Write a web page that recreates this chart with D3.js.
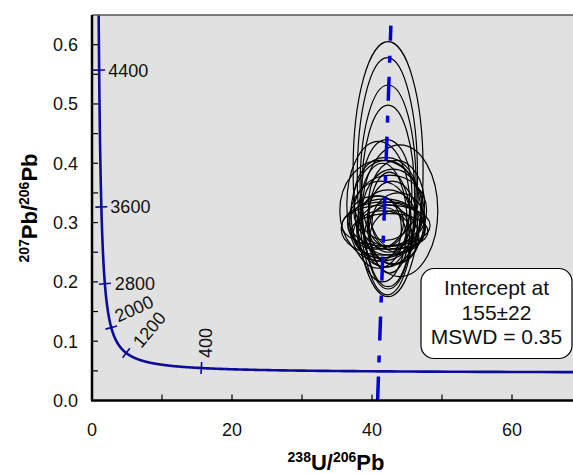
<!DOCTYPE html>
<html>
<head>
<meta charset="utf-8">
<script src="https://cdn.jsdelivr.net/npm/d3@7"></script>
<style>
  body { margin: 0; background: #fff; }
  text { font-family: Arial, "Liberation Sans", sans-serif; }
</style>
</head>
<body>
<div id="chart"></div>
<script>
// decay constants (1/Ma) used for the Tera-Wasserburg concordia
var lambda238 = 1.55125e-4,
    lambda235 = 9.8485e-4,
    u238u235 = 137.88;

// age marks on the concordia (Ma)
var ageTicks = [400, 1200, 2000, 2800, 3600, 4400];

// axis ticks
var xTicks = [0, 10, 20, 30, 40, 50, 60];
var xLabels = [0, 20, 40, 60];
var yTicks = [0, 0.05, 0.1, 0.15, 0.2, 0.25, 0.3, 0.35, 0.4, 0.45, 0.5, 0.55, 0.6];
var yLabels = [0, 0.1, 0.2, 0.3, 0.4, 0.5, 0.6];

// discordia line end points [238U/206Pb, 207Pb/206Pb]
var discordia = [[40.8, 0], [42.7, 0.632]];

// error ellipses [x centre, y centre, x half-axis, y half-axis]
var ellipses = [
  [42.3, 0.390, 5.0, 0.215],
  [42.2, 0.378, 4.3, 0.200],
  [42.3, 0.360, 4.0, 0.172],
  [42.3, 0.345, 3.8, 0.153],
  [40.9, 0.330, 4.5, 0.107],
  [44.0, 0.320, 5.4, 0.111],
  [41.3, 0.320, 5.9, 0.085],
  [42.0, 0.315, 5.0, 0.090],
  [43.0, 0.310, 4.5, 0.080],
  [41.5, 0.300, 3.5, 0.100],
  [42.5, 0.300, 3.0, 0.085],
  [41.0, 0.290, 3.2, 0.055],
  [42.0, 0.295, 6.3, 0.035],
  [42.5, 0.285, 5.5, 0.030],
  [41.8, 0.300, 5.0, 0.040],
  [42.8, 0.290, 4.8, 0.045],
  [41.5, 0.280, 4.2, 0.040],
  [42.3, 0.305, 4.0, 0.050],
  [43.2, 0.275, 3.5, 0.045],
  [41.2, 0.305, 4.4, 0.065],
  [42.6, 0.320, 5.2, 0.060],
  [41.9, 0.275, 3.0, 0.050],
  [42.9, 0.300, 3.6, 0.070],
  [40.5, 0.300, 4.0, 0.045],
  [43.8, 0.300, 3.8, 0.050],
  [42.0, 0.340, 4.6, 0.070],
  [42.4, 0.290, 2.8, 0.040],
  [41.6, 0.290, 6.0, 0.045],
  [42.1, 0.350, 3.6, 0.090],
  [43.5, 0.330, 4.0, 0.075]
];

var resultLines = ["Intercept at", "155\u00b122", "MSWD = 0.35"];

var width = 573, height = 474;
var plotLeft = 92, plotTop = 15, plotBottom = 400.5;

var x = d3.scaleLinear().domain([0, 70]).range([plotLeft, plotLeft + 490]);
var y = d3.scaleLinear().domain([0, 0.65]).range([plotBottom, plotTop]);

var svg = d3.select("#chart").append("svg")
    .attr("width", width)
    .attr("height", height);

svg.append("defs").append("clipPath")
    .attr("id", "plotclip")
  .append("rect")
    .attr("x", plotLeft)
    .attr("y", plotTop)
    .attr("width", width - plotLeft)
    .attr("height", plotBottom - plotTop);

svg.append("rect")
    .attr("x", plotLeft)
    .attr("y", plotTop)
    .attr("width", width - plotLeft)
    .attr("height", plotBottom - plotTop)
    .style("fill", "#e1e1e1");

// concordia point for an age t
function tw(t) {
    var e8 = Math.exp(lambda238 * t) - 1,
        e5 = Math.exp(lambda235 * t) - 1;
    return [1 / e8, e5 / e8 / u238u235];
}

var plot = svg.append("g").attr("clip-path", "url(#plotclip)");

// ellipses
plot.selectAll("ellipse.err")
    .data(ellipses)
    .enter().append("ellipse")
    .attr("class", "err")
    .attr("cx", function (d) { return x(d[0]); })
    .attr("cy", function (d) { return y(d[1]); })
    .attr("rx", function (d) { return x(d[0] + d[2]) - x(d[0]); })
    .attr("ry", function (d) { return y(d[1] - d[3]) - y(d[1]); })
    .style("fill", "none")
    .style("stroke", "#000")
    .style("stroke-width", "1.2px");

// discordia
var line = d3.line()
    .x(function (d) { return x(d[0]); })
    .y(function (d) { return y(d[1]); });

plot.append("path")
    .attr("d", line(discordia))
    .style("fill", "none")
    .style("stroke", "#0000dd")
    .style("stroke-width", "3.5px")
    .style("stroke-dasharray", "24,14,7,15");

// concordia curve
var ages = d3.range(80, 4700, 5);
plot.append("path")
    .attr("d", line(ages.map(tw)))
    .style("fill", "none")
    .style("stroke", "#0c0c96")
    .style("stroke-width", "2.6px");

// age marks
var tickLen = 6;
ageTicks.forEach(function (t) {
    var p = tw(t), p0 = tw(t - 5), p1 = tw(t + 5);
    var dx = x(p1[0]) - x(p0[0]), dy = y(p1[1]) - y(p0[1]);
    var n = Math.sqrt(dx * dx + dy * dy);
    var nx = -dy / n, ny = dx / n;
    var px = x(p[0]), py = y(p[1]);
    plot.append("line")
        .attr("x1", px - nx * tickLen)
        .attr("y1", py - ny * tickLen)
        .attr("x2", px + nx * tickLen)
        .attr("y2", py + ny * tickLen)
        .style("stroke", "#0c0c96")
        .style("stroke-width", "1.6px");
});

// age labels: offset from mark and rotation
var ageLabelPos = {
    400: [11, -10, -90],
    1200: [15, -4, -50],
    2000: [7, -5, -24],
    2800: [10, 6.5, 0],
    3600: [9, 6.5, 0],
    4400: [9, 6.5, 0]
};
ageTicks.forEach(function (t) {
    var p = tw(t), o = ageLabelPos[t];
    var px = x(p[0]) + o[0], py = y(p[1]) + o[1];
    svg.append("text")
        .attr("transform", "translate(" + px + "," + py + ") rotate(" + o[2] + ")")
        .style("font-size", "18px")
        .style("fill", "#111")
        .text(t);
});

// frame
svg.append("line")
    .attr("x1", plotLeft).attr("x2", width)
    .attr("y1", plotTop).attr("y2", plotTop)
    .style("stroke", "#555")
    .style("stroke-width", "1.5px");

svg.append("line")
    .attr("x1", plotLeft).attr("x2", plotLeft)
    .attr("y1", plotTop).attr("y2", plotBottom)
    .style("stroke", "#000")
    .style("stroke-width", "2.5px");

svg.append("line")
    .attr("x1", plotLeft - 1).attr("x2", width)
    .attr("y1", plotBottom).attr("y2", plotBottom)
    .style("stroke", "#000")
    .style("stroke-width", "2.5px");

// inward ticks
svg.selectAll("line.xt")
    .data(xTicks.slice(1))
    .enter().append("line")
    .attr("class", "xt")
    .attr("x1", function (d) { return x(d); })
    .attr("x2", function (d) { return x(d); })
    .attr("y1", plotBottom)
    .attr("y2", plotBottom - 6)
    .style("stroke", "#000")
    .style("stroke-width", "1.2px");

svg.selectAll("line.yt")
    .data(yTicks.slice(1))
    .enter().append("line")
    .attr("class", "yt")
    .attr("x1", plotLeft)
    .attr("x2", plotLeft + 6)
    .attr("y1", function (d) { return y(d); })
    .attr("y2", function (d) { return y(d); })
    .style("stroke", "#000")
    .style("stroke-width", "1.2px");

svg.selectAll("text.xl")
    .data(xLabels)
    .enter().append("text")
    .attr("class", "xl")
    .attr("x", function (d) { return x(d); })
    .attr("y", 436)
    .attr("text-anchor", "middle")
    .style("font-size", "18px")
    .style("fill", "#111")
    .text(function (d) { return d; });

svg.selectAll("text.yl")
    .data(yLabels)
    .enter().append("text")
    .attr("class", "yl")
    .attr("x", 78)
    .attr("y", function (d) { return y(d) + 6.5; })
    .attr("text-anchor", "end")
    .style("font-size", "18px")
    .style("fill", "#111")
    .text(function (d) { return d.toFixed(1); });

// axis titles
var xt = svg.append("text")
    .attr("x", 336)
    .attr("y", 470)
    .attr("text-anchor", "middle")
    .style("font-weight", "bold")
    .style("font-size", "22px");
xt.append("tspan").style("font-size", "14px").attr("dy", -8).text("238");
xt.append("tspan").attr("dy", 8).text("U/");
xt.append("tspan").style("font-size", "14px").attr("dy", -8).text("206");
xt.append("tspan").attr("dy", 8).text("Pb");

var yt = svg.append("text")
    .attr("transform", "translate(37,208) rotate(-90)")
    .attr("text-anchor", "middle")
    .style("font-weight", "bold")
    .style("font-size", "22px");
yt.append("tspan").style("font-size", "14px").attr("dy", -8).text("207");
yt.append("tspan").attr("dy", 8).text("Pb/");
yt.append("tspan").style("font-size", "14px").attr("dy", -8).text("206");
yt.append("tspan").attr("dy", 8).text("Pb");

// result box
svg.append("rect")
    .attr("x", 421)
    .attr("y", 268.5)
    .attr("width", 151)
    .attr("height", 90)
    .attr("rx", 13)
    .style("fill", "#fff")
    .style("stroke", "#000")
    .style("stroke-width", "1.2px");

svg.selectAll("text.res")
    .data(resultLines)
    .enter().append("text")
    .attr("class", "res")
    .attr("x", 496.5)
    .attr("y", function (d, i) { return 295 + i * 24.5; })
    .attr("text-anchor", "middle")
    .style("font-size", "21px")
    .style("fill", "#111")
    .text(function (d) { return d; });
</script>
</body>
</html>
